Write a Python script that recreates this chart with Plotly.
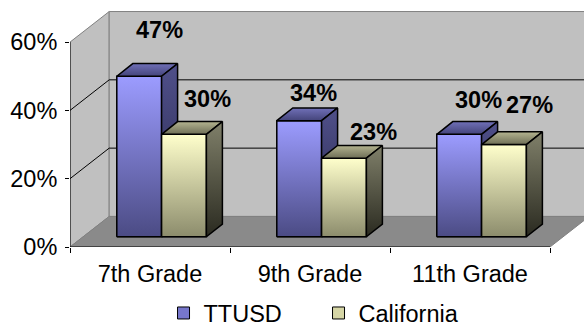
import plotly.graph_objects as go

# ---- data -------------------------------------------------------------
grades = ["7th Grade", "9th Grade", "11th Grade"]
ttusd = [47, 34, 30]
california = [30, 23, 27]
y_ticks = [0, 20, 40, 60]
y_tick_text = ["0%", "20%", "40%", "60%"]

# ---- projection geometry (axis units: x = category, y = percent) ------
DEPTH_X, DEPTH_Y = 0.245, 8.95        # full depth of floor / walls
BAR_SHIFT_X, BAR_SHIFT_Y = 0.0725, 3.0  # bar front plane behind the axis plane
BAR_DX, BAR_DY = 0.10, 3.72           # depth of each bar
BAR_W = 0.28
X_RANGE = [-0.5, 2.7125]
Y_RANGE = [0, 72.33]
X0, X1 = -0.5, 2.5
WALL_TOP = 60

FONT = "Arial, Liberation Sans, sans-serif"
FS = 23.5

series = [
    dict(name="TTUSD", values=ttusd, swatch="#7777cc",
         front=[[0, "#4b4b84"], [1, "#9c9cff"]],
         top=[[0, "#44447a"], [1, "#7070b8"]],
         side=[[0, "#25254a"], [1, "#50508a"]],
         label_dx=[20, 14, 19], label_dy=[46, 28, 34]),
    dict(name="California", values=california, swatch="#d6d6a6",
         front=[[0, "#8c8c6c"], [1, "#ffffcc"]],
         top=[[0, "#6e6e56"], [1, "#b4b490"]],
         side=[[0, "#2a2a20"], [1, "#80806a"]],
         label_dx=[23, 29, 25], label_dy=[35, 26, 40]),
]

fig = go.Figure()

# front faces as real bars (also provide the legend swatches)
for s, ser in enumerate(series):
    fig.add_trace(go.Bar(
        x=list(range(len(grades))), y=ser["values"], base=BAR_SHIFT_Y,
        offset=-BAR_W + s * BAR_W + BAR_SHIFT_X, width=BAR_W,
        name=ser["name"], marker=dict(color=ser["swatch"],
                                      line=dict(color="black", width=1)),
        hoverinfo="skip"))


def face(xs, ys, scale):
    fig.add_trace(go.Scatter(
        x=xs + [xs[0]], y=ys + [ys[0]], mode="lines", fill="toself",
        line=dict(color="black", width=1.5),
        fillgradient=dict(type="vertical", colorscale=scale),
        showlegend=False, hoverinfo="skip"))


annotations = []
for i in range(len(grades)):
    for s, ser in enumerate(series):
        v = ser["values"][i]
        xl = i - BAR_W + s * BAR_W + BAR_SHIFT_X
        xr = xl + BAR_W
        yb = BAR_SHIFT_Y
        yt = v + BAR_SHIFT_Y
        face([xl, xr, xr, xl], [yb, yb, yt, yt], ser["front"])
        face([xl, xr, xr + BAR_DX, xl + BAR_DX],
             [yt, yt, yt + BAR_DY, yt + BAR_DY], ser["top"])
        face([xr, xr + BAR_DX, xr + BAR_DX, xr],
             [yb, yb + BAR_DY, yt + BAR_DY, yt], ser["side"])
        annotations.append(dict(
            x=(xl + xr) / 2, y=yt, xref="x", yref="y", text=f"{v}%",
            showarrow=False, xshift=ser["label_dx"][i],
            yshift=ser["label_dy"][i],
            font=dict(family=FONT, size=FS, color="black", weight="bold")))

# walls, floor and grid of the 3-D box
shapes = []
wall = dict(type="path", xref="x", yref="y", layer="below",
            fillcolor="#c0c0c0", line=dict(color="#808080", width=1))
shapes.append(dict(wall, path=(
    f"M{X0},0 L{X0},{WALL_TOP} L{X0 + DEPTH_X},{WALL_TOP + DEPTH_Y} "
    f"L{X0 + DEPTH_X},{DEPTH_Y} Z")))
shapes.append(dict(wall, path=(
    f"M{X0 + DEPTH_X},{DEPTH_Y} L{X0 + DEPTH_X},{WALL_TOP + DEPTH_Y} "
    f"L{X1 + DEPTH_X},{WALL_TOP + DEPTH_Y} L{X1 + DEPTH_X},{DEPTH_Y} Z")))
shapes.append(dict(wall, fillcolor="#8a8a8a", path=(
    f"M{X0},0 L{X1},0 L{X1 + DEPTH_X},{DEPTH_Y} L{X0 + DEPTH_X},{DEPTH_Y} Z")))
for t in y_ticks[1:-1]:
    shapes.append(dict(type="path", xref="x", yref="y", layer="below",
                       line=dict(color="black", width=1), path=(
        f"M{X0},{t} L{X0 + DEPTH_X},{t + DEPTH_Y} L{X1 + DEPTH_X},{t + DEPTH_Y}")))
shapes.append(dict(type="line", xref="x", yref="y", layer="below",
                   x0=X0, y0=0, x1=X1, y1=0, line=dict(color="black", width=1)))
shapes.append(dict(type="line", xref="x", yref="y", layer="below",
                   x0=X0, y0=0, x1=X0, y1=WALL_TOP, line=dict(color="black", width=1)))

fig.update_layout(
    width=584, height=329,
    margin=dict(l=70, r=0, t=0, b=82, autoexpand=False),
    paper_bgcolor="white", plot_bgcolor="rgba(0,0,0,0)",
    barmode="overlay", hovermode=False,
    font=dict(family=FONT, color="black"),
    shapes=shapes, annotations=annotations,
    xaxis=dict(range=X_RANGE, showgrid=False, zeroline=False, showline=False,
               tickvals=list(range(len(grades))), ticktext=grades,
               ticks="", tickfont=dict(size=FS), ticklabelstandoff=10,
               minor=dict(tickvals=[X0 + k for k in range(len(grades) + 1)],
                          ticks="outside", ticklen=5, tickcolor="black",
                          showgrid=False)),
    yaxis=dict(range=Y_RANGE, showgrid=False, zeroline=False, showline=False,
               tickvals=y_ticks, ticktext=y_tick_text, ticks="outside",
               ticklen=4, tickcolor="black", tickfont=dict(size=FS),
               ticklabelstandoff=3),
    legend=dict(orientation="h", xref="container", yref="paper",
                x=0.28, y=-0.268, xanchor="left", yanchor="middle",
                font=dict(size=FS), bgcolor="rgba(0,0,0,0)",
                entrywidth=110, entrywidthmode="pixels"),
)

fig.write_html("out.html")
